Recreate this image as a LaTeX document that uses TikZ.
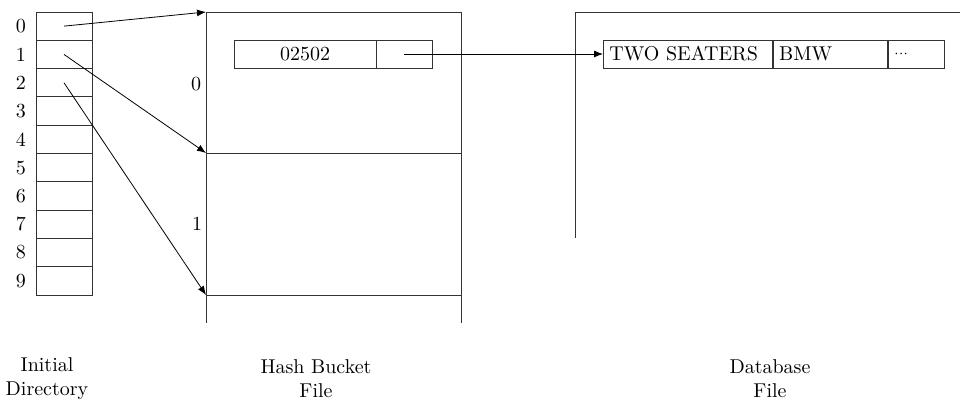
\documentclass[tikz,border=0pt]{standalone}
\usetikzlibrary{arrows.meta}
\begin{document}
\begin{tikzpicture}[x=0.5pt,y=-0.5pt,
  ln/.style={line width=0.4pt,draw=black!80},
  cell/.style={ln,draw,minimum width=28pt,minimum height=14.15pt,inner sep=0pt},
  fld/.style={ln,draw,minimum height=14pt,inner sep=0pt},
  lfld/.style={ln,draw,minimum height=14pt,inner xsep=3pt,inner ysep=0pt,align=left},
  arr/.style={line width=0.4pt,-{Latex[length=4.5pt,width=3.5pt]}},
  lbl/.style={inner sep=0pt,align=center},
  captxt/.style={inner sep=0pt,align=center}]
\useasboundingbox (0,0) rectangle (960,400);
% directory
\foreach \i in {0,...,9}{
  \node[cell] (d\i) at (64,{26.15+28.3*\i}) {};
  \node[lbl,anchor=center] (n\i) at (21,{26.15+28.3*\i}) {\i};
}
% hash bucket file
\coordinate (b0) at (206,12);
\coordinate (b1) at (206,153);
\coordinate (b2) at (206,295);
\draw[ln] (206,323) -- (b0) -- (461,12) -- (461,323);
\draw[ln] (b1) -- (461,153);
\draw[ln] (b2) -- (461,295);
\node[lbl] (z0) at (196,84) {0};
\node[lbl] (z1) at (197,224) {1};
\node[fld,minimum width=71pt] (key) at (305,54) {02502};
\node[fld,minimum width=28pt] (ptr) at (404,54) {};
% database file
\draw[ln] (575,238) -- (575,12) -- (960,12);
\node[lfld,text width=78.5pt,anchor=west] (r1) at (603,54) {TWO SEATERS};
\node[lfld,text width=51pt,anchor=west] (r2) at (r1.east) {BMW};
\node[lfld,text width=22pt,anchor=west] (r3) at (r2.east) {$\scriptstyle\cdots$};
% arrows
\draw[arr] (d0.center) -- (b0);
\draw[arr] (d1.center) -- (b1);
\draw[arr] (d2.center) -- (b2);
\draw[arr] (ptr.center) -- (r1.west);
% captions
\node[captxt] (c1) at (47,379) {Initial\\Directory};
\node[captxt] (c2) at (316,379) {Hash Bucket\\File};
\node[captxt] (c3) at (770,379) {Database\\File};
\end{tikzpicture}
\end{document}
